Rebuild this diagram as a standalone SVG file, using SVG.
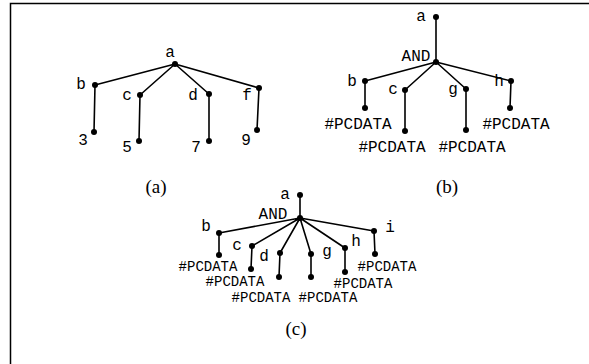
<svg xmlns="http://www.w3.org/2000/svg" width="589" height="364" viewBox="0 0 589 364">
<style>
.e{stroke:#000;stroke-width:1.6;fill:none}
.d{fill:#000}
.t{font-family:"Liberation Mono","Courier New",monospace;font-size:16px;fill:#000;text-anchor:middle}
.s{font-family:"Liberation Mono","Courier New",monospace;font-size:14px;fill:#000;text-anchor:middle}
.cap{font-family:"Liberation Serif","Times New Roman",serif;font-size:19px;fill:#000;text-anchor:middle}
</style>
<rect width="589" height="364" fill="#fff"/>
<path d="M10.5 364V3.5H589" stroke="#000" stroke-width="1.5" fill="none"/>
<g id="connectors">
<path class="e" d="M175 64L95 85M175 64L140 95M175 64L209 94M175 64L259 88M95 85L94 132M140 95L139 141M209 94L209 141M259 88L257 130"/>
<path class="e" d="M436 17L436 62M436 62L365 81M436 62L405 90M436 62L466 89M436 62L511 81M365 81L365 108M405 90L405 131M466 89L466 130M511 81L510 108"/>
<path class="e" d="M300 195L300 218M300 218L219 233M300 218L252 246M300 218L280 253M300 218L311 254M300 218L345 248M300 218L374 231M219 233L219 255M252 246L251 269M280 253L279 277M311 254L311 277M345 248L345 272M374 231L375 254"/>
</g>
<g id="tree-a">
<g id="a1"><circle class="d" cx="175" cy="64" r="3"/><text class="t" x="170" y="57">a</text></g>
<g id="b1"><circle class="d" cx="95" cy="85" r="3"/><text class="t" x="81" y="89">b</text></g>
<g id="n3"><circle class="d" cx="94" cy="132" r="3"/><text class="t" x="83" y="145">3</text></g>
<g id="c1"><circle class="d" cx="140" cy="95" r="3"/><text class="t" x="127" y="100">c</text></g>
<g id="n5"><circle class="d" cx="139" cy="141" r="3"/><text class="t" x="127" y="152">5</text></g>
<g id="d1"><circle class="d" cx="209" cy="94" r="3"/><text class="t" x="193" y="100">d</text></g>
<g id="n7"><circle class="d" cx="209" cy="141" r="3"/><text class="t" x="196" y="152">7</text></g>
<g id="f1"><circle class="d" cx="259" cy="88" r="3"/><text class="t" x="247" y="100">f</text></g>
<g id="n9"><circle class="d" cx="257" cy="130" r="3"/><text class="t" x="246" y="145">9</text></g>
<text class="cap" x="156" y="193">(a)</text>
</g>
<g id="tree-b">
<g id="a2"><circle class="d" cx="436" cy="17" r="3"/><text class="t" x="421" y="21">a</text></g>
<g id="and2"><circle class="d" cx="436" cy="62" r="3"/><text class="t" x="416" y="61">AND</text></g>
<g id="b2"><circle class="d" cx="365" cy="81" r="3"/><text class="t" x="352" y="86">b</text></g>
<g id="p2b"><circle class="d" cx="365" cy="108" r="3"/><text class="t" x="358" y="129">#PCDATA</text></g>
<g id="c2"><circle class="d" cx="405" cy="90" r="3"/><text class="t" x="393" y="94">c</text></g>
<g id="p2c"><circle class="d" cx="405" cy="131" r="3"/><text class="t" x="392" y="152">#PCDATA</text></g>
<g id="g2"><circle class="d" cx="466" cy="89" r="3"/><text class="t" x="453" y="94">g</text></g>
<g id="p2g"><circle class="d" cx="466" cy="130" r="3"/><text class="t" x="472" y="152">#PCDATA</text></g>
<g id="h2"><circle class="d" cx="511" cy="81" r="3"/><text class="t" x="499" y="86">h</text></g>
<g id="p2h"><circle class="d" cx="510" cy="108" r="3"/><text class="t" x="516" y="129">#PCDATA</text></g>
<text class="cap" x="447" y="193">(b)</text>
</g>
<g id="tree-c">
<g id="a3"><circle class="d" cx="300" cy="195" r="3"/><text class="t" x="285" y="199">a</text></g>
<g id="and3"><circle class="d" cx="300" cy="218" r="3"/><text class="t" x="273" y="219">AND</text></g>
<g id="b3"><circle class="d" cx="219" cy="233" r="3"/><text class="t" x="206" y="231">b</text></g>
<g id="p3b"><circle class="d" cx="219" cy="255" r="3"/><text class="s" x="208" y="271">#PCDATA</text></g>
<g id="c3"><circle class="d" cx="252" cy="246" r="3"/><text class="t" x="237" y="250">c</text></g>
<g id="p3c"><circle class="d" cx="251" cy="269" r="3"/><text class="s" x="235" y="286">#PCDATA</text></g>
<g id="d3"><circle class="d" cx="280" cy="253" r="3"/><text class="t" x="264" y="261">d</text></g>
<g id="p3d"><circle class="d" cx="279" cy="277" r="3"/><text class="s" x="261" y="302">#PCDATA</text></g>
<g id="g3"><circle class="d" cx="311" cy="254" r="3"/><text class="t" x="327" y="256">g</text></g>
<g id="p3g"><circle class="d" cx="311" cy="277" r="3"/><text class="s" x="328" y="302">#PCDATA</text></g>
<g id="h3"><circle class="d" cx="345" cy="248" r="3"/><text class="t" x="356" y="246">h</text></g>
<g id="p3h"><circle class="d" cx="345" cy="272" r="3"/><text class="s" x="363" y="288">#PCDATA</text></g>
<g id="i3"><circle class="d" cx="374" cy="231" r="3"/><text class="t" x="390" y="232">i</text></g>
<g id="p3i"><circle class="d" cx="375" cy="254" r="3"/><text class="s" x="387" y="271">#PCDATA</text></g>
<text class="cap" x="296" y="335">(c)</text>
</g>
</svg>
